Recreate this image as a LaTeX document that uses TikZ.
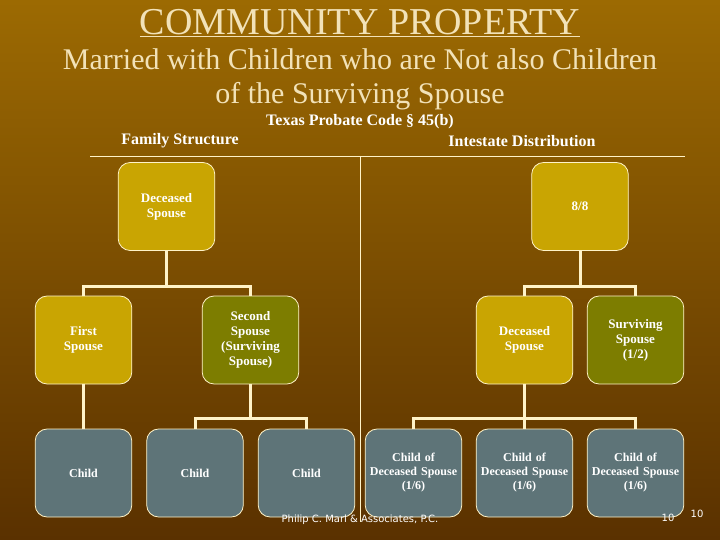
\documentclass[tikz,border=0pt]{standalone}
\usepackage{fontspec}
\setmainfont{Liberation Serif}
\newfontfamily\footfont{DejaVu Sans}
\definecolor{bgtop}{HTML}{9C6A02}
\definecolor{bgbot}{HTML}{5A3100}
\definecolor{gold}{HTML}{C9A502}
\definecolor{olive}{HTML}{7D7D00}
\definecolor{slate}{HTML}{5E7478}
\definecolor{cream}{HTML}{FFF3C8}
\definecolor{titlec}{HTML}{F2E2B8}
\begin{document}
\begin{tikzpicture}[x=1pt,y=-1pt,
  box/.style={draw=cream,line width=0.8pt,rounded corners=12pt,minimum width=95pt,minimum height=88pt,text width=90pt,align=center,text=white,font=\bfseries\fontsize{13}{15}\selectfont},
  goldbox/.style={box,fill=gold},
  olivebox/.style={box,fill=olive},
  childbox/.style={box,fill=slate,font=\bfseries\fontsize{12}{14}\selectfont},
  conn/.style={draw=cream,line width=3pt}]
\shade[top color=bgtop,bottom color=bgbot] (0,0) rectangle (720,540);
\useasboundingbox (0,0) rectangle (720,540);
\node[text=titlec,font=\fontsize{38}{40}\selectfont] (title) at (360,23) {\underline{COMMUNITY PROPERTY}};
\node[text=titlec,font=\fontsize{30}{34}\selectfont,align=center] (sub) at (360,79) {Married with Children who are Not also Children\\of the Surviving Spouse};
\node[text=white,font=\bfseries\fontsize{16}{18}\selectfont] (code) at (360,122) {Texas Probate Code § 45(b)};
\node[text=white,font=\bfseries\fontsize{16}{18}\selectfont] (fs) at (180,141) {Family Structure};
\node[text=white,font=\bfseries\fontsize{16}{18}\selectfont] (id) at (522,141) {Intestate Distribution};
\coordinate (hl) at (90,156); \coordinate (hr) at (685,156);
\coordinate (vt) at (360,156); \coordinate (vb) at (360,522);
\draw[cream,line width=0.8pt] (hl) -- (hr) (vt) -- (vb);
% left
\node[goldbox] (ds) at (166.5,206.5) {Deceased\\Spouse};
\node[goldbox] (fsp) at (83.5,340) {First\\Spouse};
\node[olivebox] (ss) at (250.5,340) {Second\\Spouse\\(Surviving\\Spouse)};
\node[childbox] (c1) at (83.5,473) {Child};
\node[childbox] (c2) at (195,473) {Child};
\node[childbox] (c3) at (306.5,473) {Child};
\draw[conn] (ds.south) |- (83.5,286) -| (fsp.north);
\draw[conn] (ds.south) |- (250.5,286) -| (ss.north);
\draw[conn] (fsp.south) -- (c1.north);
\draw[conn] (ss.south) |- (195,418) -| (c2.north);
\draw[conn] (ss.south) |- (306.5,418) -| (c3.north);
% right
\node[goldbox] (all) at (580,206.5) {8/8};
\node[goldbox] (rds) at (524.5,340) {Deceased\\Spouse};
\node[olivebox] (rss) at (635.5,340) {Surviving\\Spouse\\(1/2)};
\node[childbox] (r1) at (413.5,473) {Child of\\Deceased Spouse\\(1/6)};
\node[childbox] (r2) at (524.5,473) {Child of\\Deceased Spouse\\(1/6)};
\node[childbox] (r3) at (635.5,473) {Child of\\Deceased Spouse\\(1/6)};
\draw[conn] (all.south) |- (524.5,286) -| (rds.north);
\draw[conn] (all.south) |- (635.5,286) -| (rss.north);
\draw[conn] (rds.south) |- (413.5,418) -| (r1.north);
\draw[conn] (rds.south) -- (r2.north);
\draw[conn] (rds.south) |- (635.5,418) -| (r3.north);
\node[text=white,font=\footfont\fontsize{10}{12}\selectfont] (foot) at (360,520) {Philip C. Marl \& Associates, P.C.};
\node[text=white,font=\footfont\fontsize{10}{12}\selectfont] (pg1) at (668,518) {10};
\node[text=white,font=\footfont\fontsize{10}{12}\selectfont] (pg2) at (697,514) {10};
\end{tikzpicture}
\end{document}
